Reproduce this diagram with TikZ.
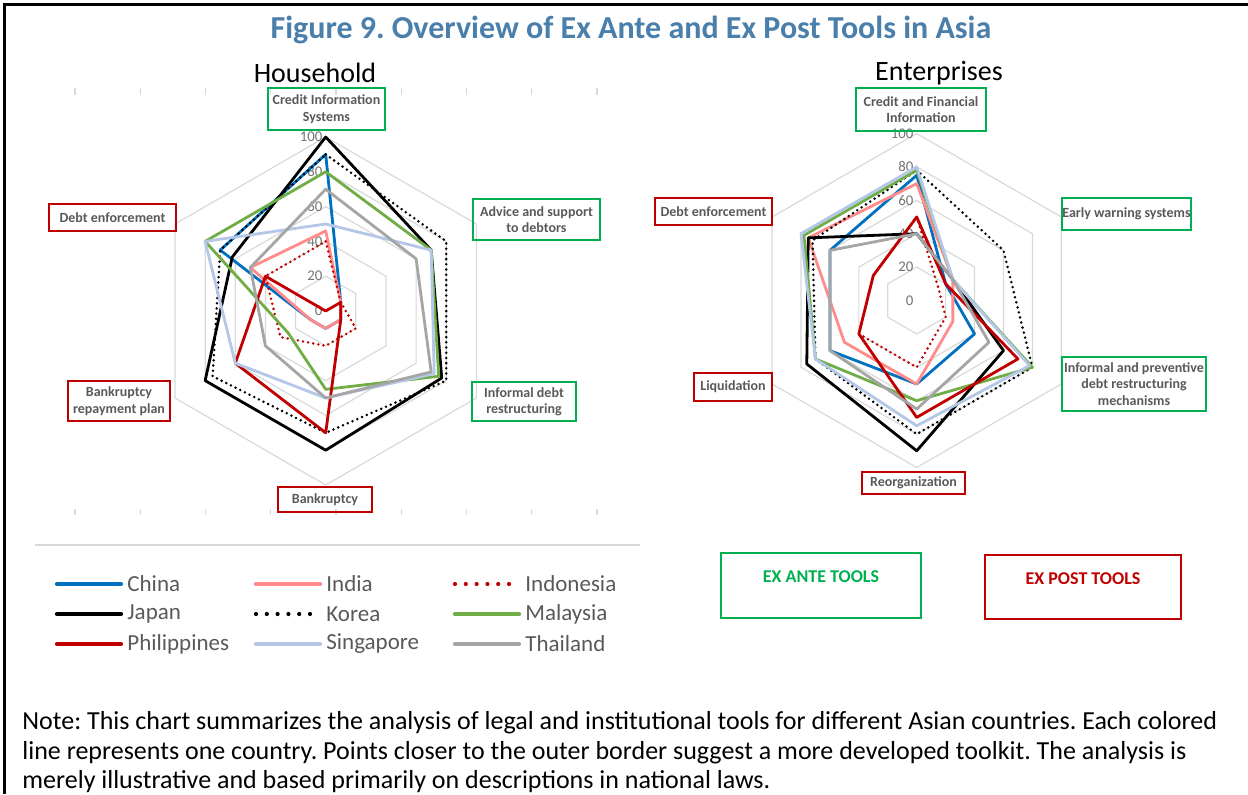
\documentclass[tikz,border=0pt]{standalone}
\usepackage{fontspec}
\setmainfont{Carlito}
\usetikzlibrary{positioning}
\frenchspacing

\definecolor{titleblue}{HTML}{4A7EAB}
\definecolor{antegreen}{HTML}{00B050}
\definecolor{postred}{HTML}{C00000}
\definecolor{labelgrey}{HTML}{595959}
\definecolor{gridgrey}{HTML}{D9D9D9}
\definecolor{chinablue}{HTML}{0070C0}
\definecolor{indiapink}{HTML}{FF8B8B}
\definecolor{malaygreen}{HTML}{70AD47}
\definecolor{singblue}{HTML}{B4C7E7}
\definecolor{thaigrey}{HTML}{A5A5A5}

% one polygon of a radar chart: style, then six scores clockwise from the top
\newcommand{\radarline}[7]{%
  \draw[#1] (90:#2) -- (30:#3) -- (-30:#4) -- (-90:#5) -- (210:#6) -- (150:#7) -- cycle;}

\begin{document}
\begin{tikzpicture}[x=0.5pt, y=-0.5pt,
    series/.style={line width=1.4pt, line join=round},
    china/.style={series, draw=chinablue},
    india/.style={series, draw=indiapink},
    indonesia/.style={series, draw=postred, dash pattern=on 0pt off 2.6pt, line cap=round},
    japan/.style={series, draw=black},
    korea/.style={series, draw=black, dash pattern=on 0pt off 2.6pt, line cap=round},
    malaysia/.style={series, draw=malaygreen},
    philippines/.style={series, draw=postred},
    singapore/.style={series, draw=singblue},
    thailand/.style={series, draw=thaigrey},
    indonesiakey/.style={draw=postred, dash pattern=on 0pt off 5.4pt},
    koreakey/.style={draw=black, dash pattern=on 0pt off 5.4pt},
    gridline/.style={draw=gridgrey, line width=0.6pt},
    axisnum/.style={anchor=east, text=labelgrey!85, font=\fontsize{7.4}{8}\selectfont, inner sep=1.5pt},
    tool/.style={draw, line width=1pt, align=center, text=labelgrey, font=\fontsize{7}{8.2}\selectfont\bfseries, inner sep=0pt},
    ante/.style={tool, draw=antegreen},
    post/.style={tool, draw=postred},
    keytext/.style={text=labelgrey, font=\fontsize{11.5}{13}\selectfont, inner sep=0pt, anchor=west},
    charttitle/.style={font=\fontsize{14}{16}\selectfont}
]
\useasboundingbox (0,0) rectangle (1248,794);

% frame
\draw[line width=1.5pt] (4,794) -- (4,4) -- (1248,4);

\node[text=titleblue, font=\fontsize{16}{18}\selectfont\bfseries] (title) at (631,30)
  {Figure 9. Overview of Ex Ante and Ex Post Tools in Asia};
\node[charttitle] (household) at (315,73) {Household};
\node[charttitle] (enterprises) at (939,73) {Enterprises};

% faint ticks of the household chart area
\foreach \i in {0,...,8} {
  \draw[gridline] ({75+65.25*\i},88) -- ++(0,7);
  \draw[gridline] ({75+65.25*\i},509) -- ++(0,6);
}
\draw[gridline] (35,545) -- (640,545);

% Household radar
\begin{scope}[shift={(325.7,311)}, yscale=-1, scale=1.74]
  \foreach \v in {20,40,...,100}
    \draw[gridline] (90:\v) -- (30:\v) -- (-30:\v) -- (-90:\v) -- (210:\v) -- (150:\v) -- cycle;
  \foreach \v in {0,20,...,100}
    \node[axisnum] (hnum\v) at (90:\v) {\v};
  \radarline{china}{90}{10}{10}{10}{10}{70}
  \radarline{india}{46}{10}{10}{10}{10}{50}
  \radarline{indonesia}{40}{10}{20}{20}{30}{40}
  \radarline{japan}{100}{70}{77}{80}{80}{62}
  \radarline{korea}{90}{80}{80}{70}{75}{70}
  \radarline{malaysia}{80}{70}{75}{45}{25}{80}
  \radarline{philippines}{0}{10}{10}{70}{60}{40}
  \radarline{singapore}{50}{70}{72}{50}{60}{80}
  \radarline{thailand}{70}{60}{70}{50}{40}{50}
\end{scope}

% Enterprises radar
\begin{scope}[shift={(916.7,300.5)}, yscale=-1, scale=1.67]
  \foreach \v in {20,40,...,100}
    \draw[gridline] (90:\v) -- (30:\v) -- (-30:\v) -- (-90:\v) -- (210:\v) -- (150:\v) -- cycle;
  \foreach \v in {0,20,...,100}
    \node[axisnum] (enum\v) at (90:\v) {\v};
  \radarline{china}{75}{20}{40}{50}{60}{60}
  \radarline{india}{70}{25}{25}{50}{50}{75}
  \radarline{indonesia}{50}{15}{20}{40}{40}{30}
  \radarline{japan}{40}{25}{60}{90}{76}{75}
  \radarline{korea}{78}{60}{80}{80}{70}{72}
  \radarline{malaysia}{78}{25}{80}{60}{70}{78}
  \radarline{philippines}{50}{20}{70}{70}{40}{30}
  \radarline{singapore}{80}{25}{78}{75}{70}{80}
  \radarline{thailand}{40}{25}{50}{65}{60}{60}
\end{scope}

% household tool labels
\node[ante, minimum width=58.5pt, minimum height=21pt] (hcredit) at (326.5,109) {Credit Information\\Systems};
\node[ante, minimum width=63.5pt, minimum height=20.5pt] (hadvice) at (536.5,219.5) {Advice and support\\to debtors};
\node[ante, minimum width=52pt, minimum height=19.5pt] (hinformal) at (524,401.5) {Informal debt\\restructuring};
\node[post, minimum width=47pt, minimum height=12.5pt] (hbankr) at (325,499.5) {Bankruptcy};
\node[post, minimum width=51pt, minimum height=20pt] (hrepay) at (119,401) {Bankruptcy\\repayment plan};
\node[post, minimum width=63.5pt, minimum height=13.5pt] (hdebt) at (112.5,217.5) {Debt enforcement};

% enterprise tool labels
\node[ante, minimum width=65pt, minimum height=21.5pt] (ecredit) at (921,109.5) {Credit and Financial\\Information};
\node[ante, minimum width=64.5pt, minimum height=16pt] (ewarn) at (1126.5,214) {Early warning systems};
\node[ante, minimum width=72pt, minimum height=27pt] (einformal) at (1134,384) {Informal and preventive\\debt restructuring\\mechanisms};
\node[post, minimum width=51.5pt, minimum height=11pt] (ereorg) at (913.5,483) {Reorganization};
\node[post, minimum width=39pt, minimum height=14pt] (eliquid) at (733,387) {Liquidation};
\node[post, minimum width=58.5pt, minimum height=13.5pt] (edebt) at (713.5,211.5) {Debt enforcement};

% legend
\foreach \nm/\sty/\x/\y in {China/chinablue/57/584, India/indiapink/256/584, Indonesia/indonesiakey/455/584,
    Japan/black/57/614, Korea/koreakey/256/614, Malaysia/malaygreen/455/614,
    Philippines/postred/57/644, Singapore/singblue/256/644, Thailand/thaigrey/455/644} {
  \draw[\sty, line width=2.1pt, line cap=round] (\x,\y) -- ++(64,0) coordinate (key\nm);
  \node[keytext, right=3pt of key\nm] (txt\nm) {\nm};
}

% ex ante / ex post key
\node[draw=antegreen, line width=1pt, minimum width=100pt, minimum height=32.5pt] (antebox) at (821,585.5) {};
\node[text=antegreen, font=\fontsize{9}{10}\selectfont\bfseries, below=6pt of antebox.north] (antetext) {EX ANTE TOOLS};
\node[draw=postred, line width=1pt, minimum width=98pt, minimum height=32pt] (postbox) at (1083,587) {};
\node[text=postred, font=\fontsize{9}{10}\selectfont\bfseries, below=6pt of postbox.north] (posttext) {EX POST TOOLS};

% note
\node[anchor=north west, align=left, inner sep=0pt, font=\fontsize{13}{14.7}\selectfont] (note) at (22,711.5)
  {Note: This chart summarizes the analysis of legal and institutional tools for different Asian countries. Each colored\\
   line represents one country. Points closer to the outer border suggest a more developed toolkit. The analysis is\\
   merely illustrative and based primarily on descriptions in national laws.};
\end{tikzpicture}
\end{document}
